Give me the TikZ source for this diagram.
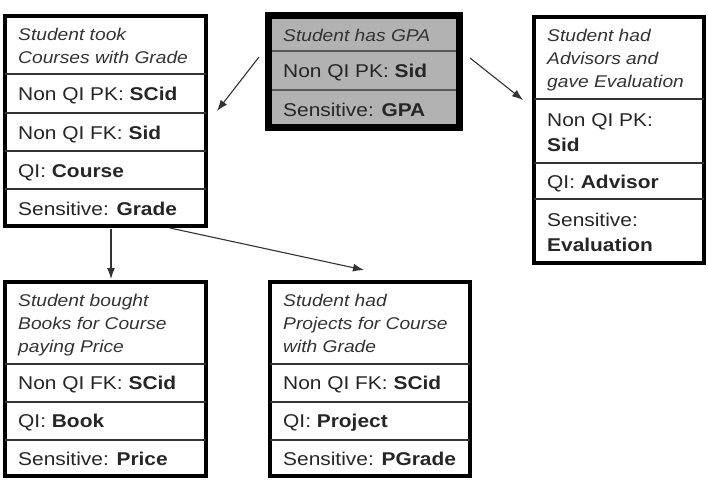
\documentclass[tikz,border=0pt]{standalone}
\usepackage{fontspec}
\setmainfont{Liberation Sans}[FakeStretch=1.13]
\usetikzlibrary{arrows.meta}
\begin{document}
\begin{tikzpicture}[x=1pt,y=-1pt,
  tbox/.style={draw=black, line width=4pt, fill=white, inner sep=0pt, outer sep=0pt, anchor=north west},
  gbox/.style={draw=black, line width=7pt, fill=black!30, inner sep=0pt, outer sep=0pt, anchor=north west},
  divider/.style={line width=1.5pt, draw=black!80},
  gdivider/.style={line width=2pt, draw=black!65},
  txt/.style={anchor=base west, inner sep=0pt, font=\fontsize{18.5}{25}\selectfont, text=black!85, align=left},
  hdr/.style={anchor=base west, inner sep=0pt, font=\fontsize{17}{23}\selectfont\itshape, text=black!80, align=left},
  link/.style={draw=black!80, line width=1.1pt, -{Latex[length=11pt,width=8pt]}}
]
\useasboundingbox[fill=white] (0,0) rectangle (708,492);

% Box A: Student took Courses with Grade
\node[tbox, minimum width=201pt, minimum height=210pt] (A) at (5,16) {};
\draw[divider] (5,74) -- (206,74);
\draw[divider] (5,113) -- (206,113);
\draw[divider] (5,151) -- (206,151);
\draw[divider] (5,189) -- (206,189);
\node[hdr] (Ah) at (18,64) {Student took\\Courses with Grade};
\node[txt] (A1) at (18,100) {Non QI PK: \textbf{SCid}};
\node[txt] (A2) at (18,139) {Non QI FK: \textbf{Sid}};
\node[txt] (A3) at (18,177) {QI: \textbf{Course}};
\node[txt] (A4) at (18,215) {Sensitive: \textbf{Grade}};

% Box B: Student has GPA
\node[gbox, minimum width=191pt, minimum height=112pt] (B) at (268.5,15.5) {};
\draw[gdivider] (272,51) -- (456,51);
\draw[gdivider] (272,90) -- (456,90);
\node[hdr] (Bh) at (283,42) {Student has GPA};
\node[txt] (B1) at (283,78) {Non QI PK: \textbf{Sid}};
\node[txt] (B2) at (283,117) {Sensitive: \textbf{GPA}};

% Box C: Student had Advisors and gave Evaluation
\node[tbox, minimum width=170pt, minimum height=246pt] (C) at (534,17) {};
\draw[divider] (534,99) -- (704,99);
\draw[divider] (534,163) -- (704,163);
\draw[divider] (534,199) -- (704,199);
\node[hdr] (Ch) at (547,88) {Student had\\Advisors and\\gave Evaluation};
\node[txt] (C1) at (547,151) {Non QI PK:\\\textbf{Sid}};
\node[txt] (C2) at (547,188) {QI: \textbf{Advisor}};
\node[txt] (C3) at (547,251) {Sensitive:\\\textbf{Evaluation}};

% Box D: Student bought Books for Course paying Price
\node[tbox, minimum width=201pt, minimum height=194pt] (D) at (5,282) {};
\draw[divider] (5,364) -- (206,364);
\draw[divider] (5,402) -- (206,402);
\draw[divider] (5,440) -- (206,440);
\node[hdr] (Dh) at (18,352) {Student bought\\Books for Course\\paying Price};
\node[txt] (D1) at (18,389) {Non QI FK: \textbf{SCid}};
\node[txt] (D2) at (18,427) {QI: \textbf{Book}};
\node[txt] (D3) at (18,465) {Sensitive: \textbf{Price}};

% Box E: Student had Projects for Course with Grade
\node[tbox, minimum width=200pt, minimum height=194pt] (E) at (270,282) {};
\draw[divider] (270,364) -- (470,364);
\draw[divider] (270,402) -- (470,402);
\draw[divider] (270,440) -- (470,440);
\node[hdr] (Eh) at (283,352) {Student had\\Projects for Course\\with Grade};
\node[txt] (E1) at (283,389) {Non QI FK: \textbf{SCid}};
\node[txt] (E2) at (283,427) {QI: \textbf{Project}};
\node[txt] (E3) at (283,465) {Sensitive: \textbf{PGrade}};

% connector end points
\coordinate (bA) at (259,57);
\coordinate (aB) at (217,111);
\coordinate (bC) at (470,58);
\coordinate (cB) at (523,100);
\coordinate (aD) at (111,229);
\coordinate (dA) at (111,279);
\coordinate (aE) at (170,228);
\coordinate (eA) at (364,270);

\draw[link] (bA) -- (aB);
\draw[link] (bC) -- (cB);
\draw[link] (aD) -- (dA);
\draw[link] (aE) -- (eA);
\end{tikzpicture}
\end{document}
